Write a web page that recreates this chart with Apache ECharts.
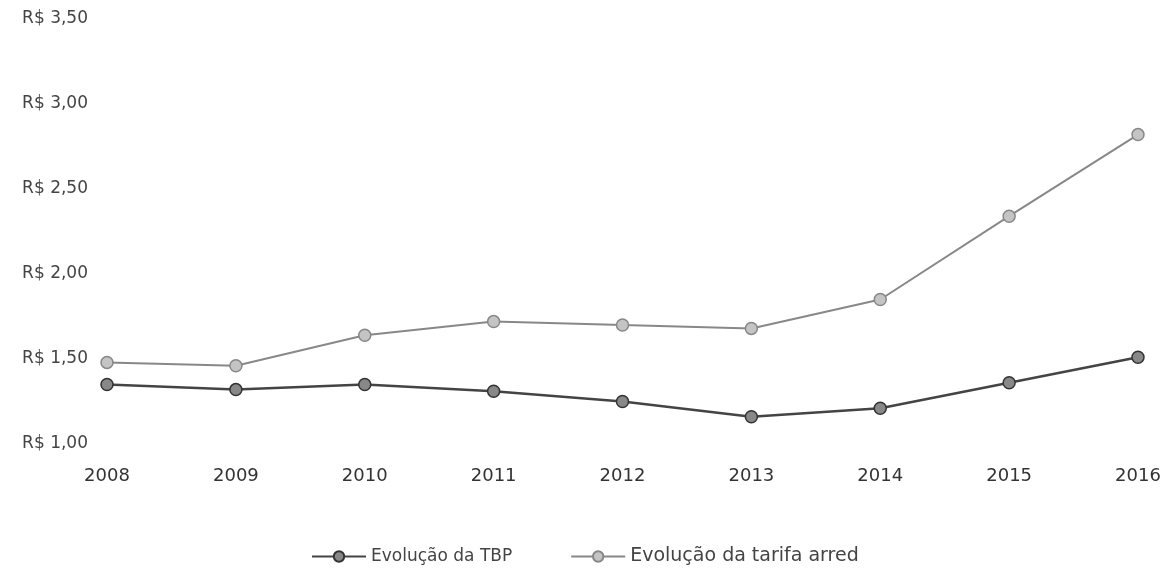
<!DOCTYPE html>
<html>
<head>
<meta charset="utf-8">
<script src="https://cdn.jsdelivr.net/npm/echarts@6/dist/echarts.min.js"></script>
<style>
  html, body { margin: 0; padding: 0; background: #fff; }
  #chart { width: 1169px; height: 579px; }
</style>
</head>
<body>
<div id="chart"></div>
<script>
  // anos e valores
  var years = ['2008', '2009', '2010', '2011', '2012', '2013', '2014', '2015', '2016']
  var tbp = [1.35, 1.32, 1.35, 1.31, 1.25, 1.16, 1.21, 1.36, 1.51]
  var tarifa = [1.48, 1.46, 1.64, 1.72, 1.70, 1.68, 1.85, 2.34, 2.82]
  var seriesNames = ['Evolução da TBP', 'Evolução da tarifa arred']

  var myChart = echarts.init(document.getElementById('chart'))
  myChart.setOption({
    animation: false,
    textStyle: { fontFamily: 'DejaVu Sans' },
    grid: { left: 107, right: 31, top: 19, bottom: 135 },
    legend: {
      left: 306,
      top: 542,
      itemWidth: 54,
      itemHeight: 13,
      itemGap: 58,
      formatter: function (name) {
        return name === seriesNames[0] ? '{a|' + name + '}' : '{b|' + name + '}'
      },
      textStyle: {
        color: '#444',
        rich: {
          a: { fontSize: 17, color: '#444', fontFamily: 'DejaVu Sans' },
          b: { fontSize: 19, color: '#444', fontFamily: 'DejaVu Sans' }
        }
      },
      data: seriesNames
    },
    xAxis: {
      type: 'category',
      boundaryGap: false,
      data: years,
      axisLine: { show: false },
      axisTick: { show: false },
      axisLabel: { fontSize: 18, color: '#333', margin: 23 }
    },
    yAxis: {
      type: 'value',
      min: 1,
      max: 3.5,
      interval: 0.5,
      splitLine: { show: false },
      axisLabel: {
        fontSize: 17,
        color: '#444',
        margin: 19,
        formatter: function (v) { return 'R$ ' + v.toFixed(2).replace('.', ',') }
      }
    },
    series: [
      {
        name: seriesNames[0],
        type: 'line',
        data: tbp,
        symbol: 'circle',
        symbolSize: 12,
        lineStyle: { color: '#444', width: 2.5 },
        itemStyle: { color: '#888', borderColor: '#333', borderWidth: 1.5 }
      },
      {
        name: seriesNames[1],
        type: 'line',
        data: tarifa,
        symbol: 'circle',
        symbolSize: 12,
        lineStyle: { color: '#888', width: 2 },
        itemStyle: { color: '#c4c4c4', borderColor: '#888', borderWidth: 1.5 }
      }
    ]
  })
</script>
</body>
</html>
